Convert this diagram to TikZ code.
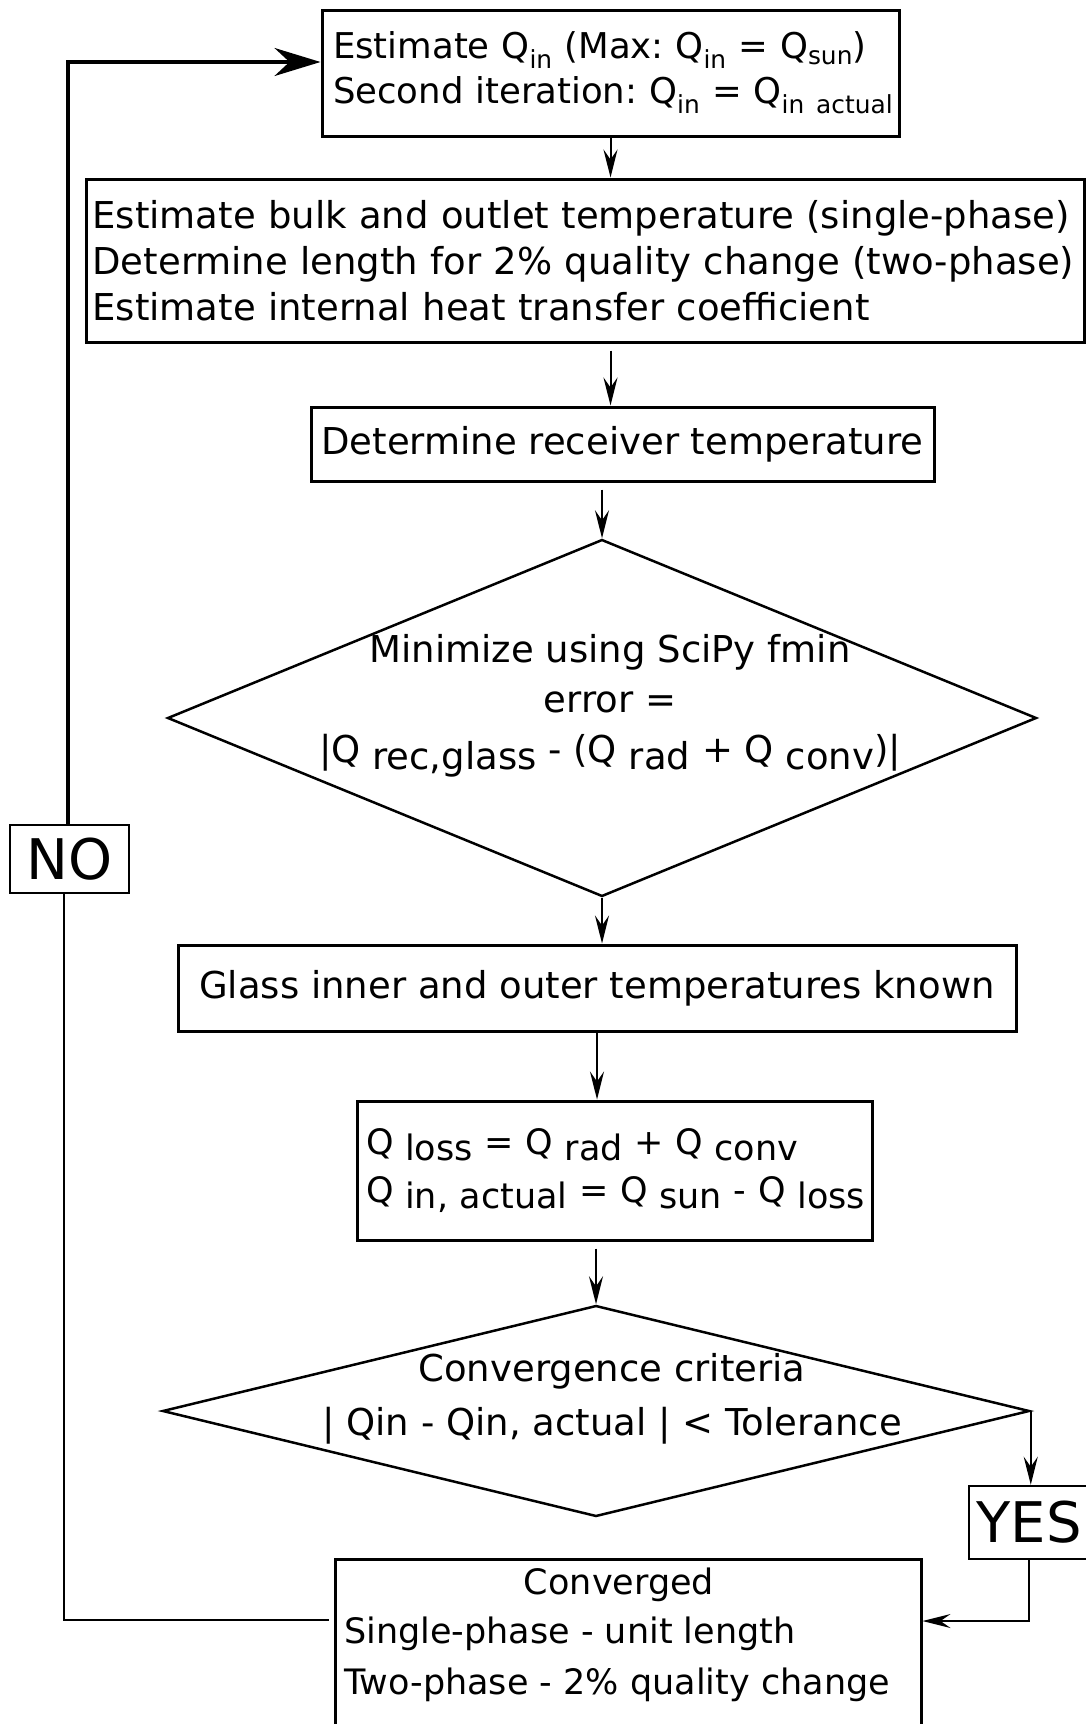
\documentclass[tikz,border=0pt]{standalone}
\usepackage{fontspec}
\setmainfont{DejaVu Sans}
\usetikzlibrary{arrows.meta,shapes.geometric,calc}
\newcommand\dnx[1]{\raisebox{-0.18em}{#1}}
\newcommand\sbx[1]{\textsubscript{#1}}
\frenchspacing
\begin{document}
\begin{tikzpicture}[x=1pt,y=-1pt,
  box/.style={draw, line width=3pt, inner sep=0pt},
  dia/.style={draw, diamond, line width=2.5pt, inner sep=0pt},
  txt/.style={font=\fontsize{37}{46}\selectfont, inner sep=0pt},
  big/.style={font=\fontsize{56}{60}\selectfont, inner sep=0pt},
  arr/.style={line width=2pt, -{Stealth[length=28pt,width=14pt,inset=10pt]}},
  bigarr/.style={line width=3.5pt, -{Stealth[length=46pt,width=28pt,inset=15pt]}},
  lnk/.style={line width=2pt}]
\useasboundingbox (0,0) rectangle (1086,1724);
\fill[white] (0,0) rectangle (1086,1724);

% boxes
\node[box, txt, font=\fontsize{35.5}{45}\selectfont, minimum width=577pt, minimum height=126pt, text width=555pt, align=left] (b1) at (610.5,73)
  {\mbox{Estimate Q\sbx{in} (Max: Q\sbx{in} = Q\sbx{sun})}\\\mbox{Second iteration: Q\sbx{in} = Q\sbx{in actual}}};
\node[box, txt, minimum width=998pt, minimum height=163pt, text width=985pt, align=left] (b2) at (585,260.5)
  {\mbox{Estimate bulk and outlet temperature (single-phase)}\\\mbox{Determine length for 2\% quality change (two-phase)}\\\mbox{Estimate internal heat transfer coefficient}};
\node[box, txt, minimum width=623pt, minimum height=74pt, align=center] (b3) at (622.5,444)
  {Determine receiver temperature};
\node[dia, minimum width=869pt, minimum height=357pt] (d1) at (602,718) {};
\node[txt, font=\fontsize{37}{50}\selectfont, align=center] (t1) at (610,706)
  {Minimize using SciPy fmin\\error =\\|Q \dnx{rec,glass} - (Q \dnx{rad} + Q \dnx{conv})|};
\node[box, txt, minimum width=838pt, minimum height=86pt, align=center] (b4) at (597,988)
  {Glass inner and outer temperatures known};
\node[box, txt, font=\fontsize{35}{48}\selectfont, minimum width=515pt, minimum height=139pt, text width=497pt, align=left] (b5) at (614.5,1170.5)
  {\mbox{Q \dnx{loss} = Q \dnx{rad} + Q \dnx{conv}}\\\mbox{Q \dnx{in, actual} = Q \dnx{sun} - Q \dnx{loss}}};
\node[dia, minimum width=867pt, minimum height=211pt] (d2) at (596,1411) {};
\node[txt, font=\fontsize{37}{54}\selectfont, align=center] (t2) at (612,1399)
  {Convergence criteria\\| Qin - Qin, actual | < Tolerance};
\node[box, big, line width=2.5pt, minimum width=120pt, minimum height=73pt] (yes) at (1029,1522.5) {YES};
\node[box, minimum width=586pt, minimum height=200pt] (conv) at (628,1659) {};
\node[txt, font=\fontsize{35}{46}\selectfont] (c1) at (619,1585) {Converged};
\node[txt, anchor=west, align=left, font=\fontsize{35}{51}\selectfont] (c2) at (344,1659)
  {Single-phase - unit length\\Two-phase - 2\% quality change};
\node[box, big, line width=2.5pt, minimum width=119pt, minimum height=68pt] (no) at (69.5,859) {NO};

% connectors
\coordinate (yj) at (1029,1621);
\coordinate (nl) at (64,1620);
\coordinate (nt) at (68,62);
\draw[arr] (b1.south) -- (b2.north -| b1.south);
\draw[arr, shorten <=7pt] (b2.south -| b1.south) -- (b3.north -| b1.south);
\draw[arr, shorten <=7pt] (b3.south -| d1.north) -- (d1.north);
\draw[arr] (d1.south) -- (d1.south |- b4.north);
\draw[arr] (b4.south) -- (b4.south |- b5.north);
\draw[arr, shorten <=7pt] (b5.south -| d2.north) -- (d2.north);
\draw[arr] (d2.east) -- (d2.east |- yes.north);
\draw[arr] (yes.south -| yj) -- (yj) -- (yj -| conv.east);
\draw[lnk, shorten <=5pt] (conv.west |- nl) -- (nl) -- (nl |- no.south);
\draw[bigarr] (no.north -| nt) -- (nt) -- (nt -| b1.west);
\end{tikzpicture}
\end{document}
